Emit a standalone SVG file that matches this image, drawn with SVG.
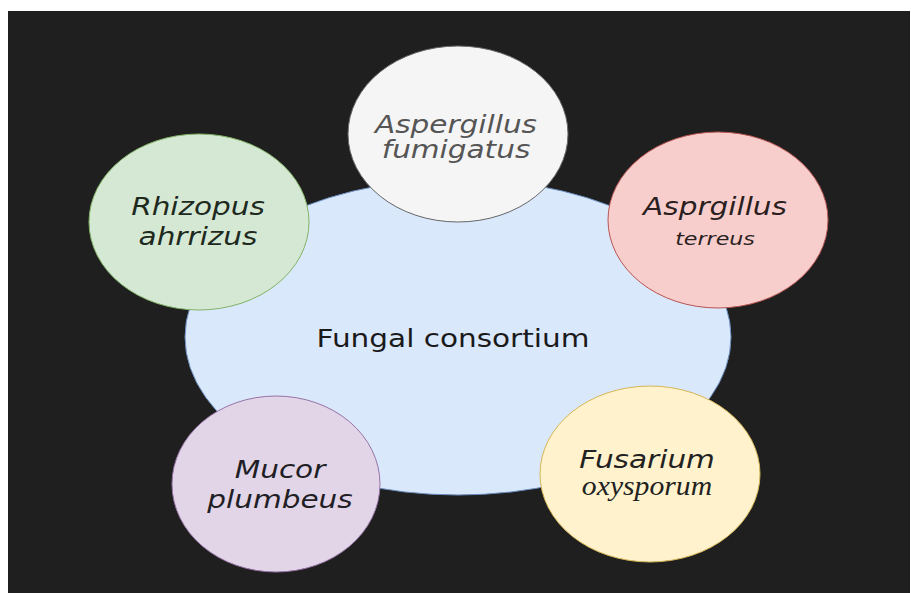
<svg xmlns="http://www.w3.org/2000/svg" width="911" height="593" viewBox="0 0 911 593">
<style>
.sans{font-family:"DejaVu Sans","Verdana",sans-serif;font-size:24px;text-anchor:middle}
.it{font-style:italic}
.serif{font-family:"Liberation Serif","Times New Roman",serif;font-style:italic;font-size:27px;text-anchor:middle}
.node{stroke-width:1}
</style>
<rect x="0" y="0" width="911" height="593" fill="#ffffff"/>
<rect x="8" y="11" width="902" height="582" fill="#1f1f1f"/>
<g id="connectors"></g>
<g id="center">
<ellipse class="node" cx="458" cy="337" rx="273" ry="158" fill="#dae8fc" stroke="#6c8ebf"/>
<text class="sans" transform="translate(453,347) scale(1.23,1)" fill="#1a1a1a">Fungal consortium</text>
</g>
<g id="aspergillus-fumigatus">
<ellipse class="node" cx="458" cy="134" rx="110" ry="88" fill="#f5f5f5" stroke="#666666"/>
<text class="sans it" transform="translate(456,133) scale(1.23,1)" fill="#555555">Aspergillus</text>
<text class="sans it" transform="translate(456,158) scale(1.23,1)" fill="#555555">fumigatus</text>
</g>
<g id="rhizopus-ahrrizus">
<ellipse class="node" cx="199" cy="222" rx="110" ry="88" fill="#d5e8d4" stroke="#82b366"/>
<text class="sans it" transform="translate(198,215) scale(1.23,1)" fill="#1e2a1e">Rhizopus</text>
<text class="sans it" transform="translate(198,245) scale(1.23,1)" fill="#1e2a1e">ahrrizus</text>
</g>
<g id="asprgillus-terreus">
<ellipse class="node" cx="718" cy="220" rx="110" ry="88" fill="#f8cecc" stroke="#b85450"/>
<text class="sans it" transform="translate(715,215) scale(1.23,1)" fill="#2a1e1e">Asprgillus</text>
<text class="sans it" transform="translate(715,245) scale(1.23,1)" fill="#2a1e1e" style="font-size:18px">terreus</text>
</g>
<g id="mucor-plumbeus">
<ellipse class="node" cx="276" cy="484" rx="104" ry="88" fill="#e1d5e7" stroke="#9673a6"/>
<text class="sans it" transform="translate(280,478) scale(1.23,1)" fill="#221e26">Mucor</text>
<text class="sans it" transform="translate(280,508) scale(1.23,1)" fill="#221e26">plumbeus</text>
</g>
<g id="fusarium-oxysporum">
<ellipse class="node" cx="650" cy="474" rx="110" ry="88" fill="#fff2cc" stroke="#d6b656"/>
<text class="sans it" transform="translate(647,468) scale(1.23,1)" fill="#222222">Fusarium</text>
<text class="serif" transform="translate(647,495) scale(1.1,1)" fill="#222222">oxysporum</text>
</g>
</svg>
